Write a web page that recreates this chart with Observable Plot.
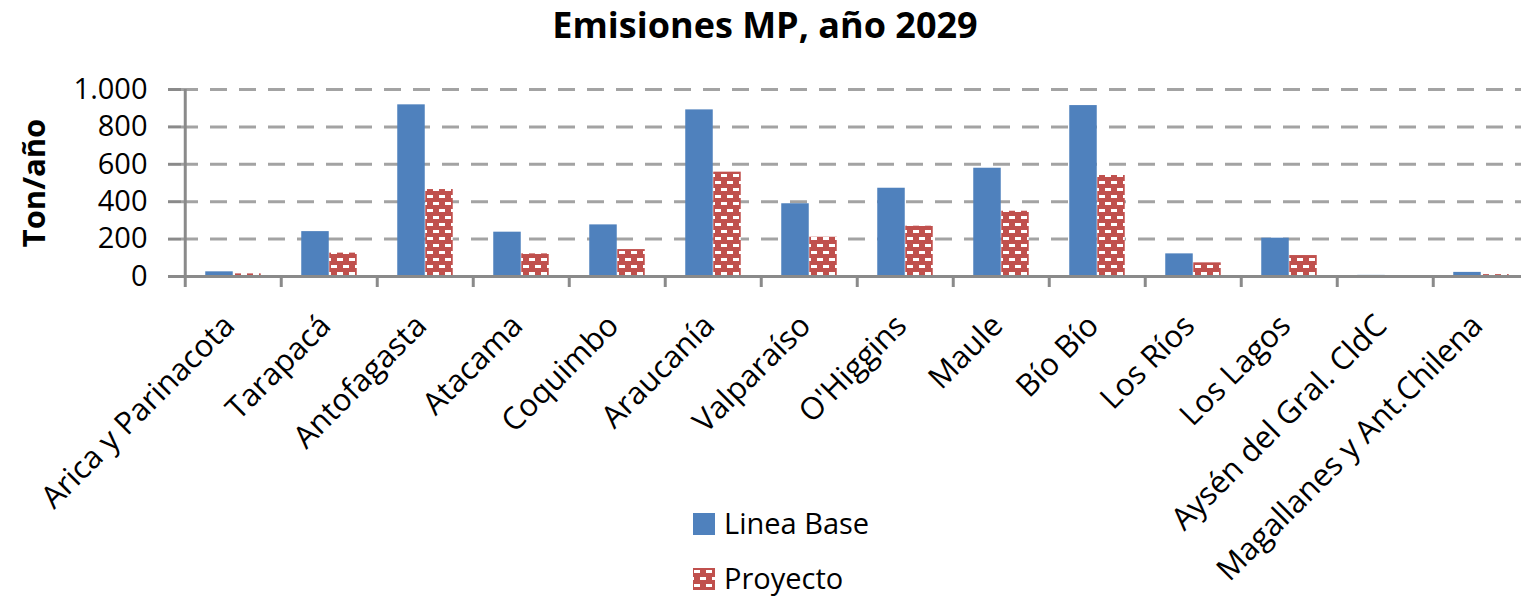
<!DOCTYPE html>
<html>
<head>
<meta charset="utf-8">
<script src="https://cdn.jsdelivr.net/npm/d3@7"></script>
<script src="https://cdn.jsdelivr.net/npm/@observablehq/plot@0.6"></script>
<style>
  html, body { margin: 0; padding: 0; background: #fff; }
  body { font-family: "Open Sans", sans-serif; color: #000; }
  #wrap { position: relative; width: 1521px; height: 596px; overflow: hidden; }
  #title { position: absolute; top: 0; left: 9px; width: 1512px; text-align: center; font-size: 36px; font-weight: bold; line-height: normal; }
  #chart { position: absolute; top: 60px; left: 0; }
  .lg-sw { position: absolute; left: 693px; width: 22px; height: 22px; }
  .lg-tx { position: absolute; left: 724px; font-size: 29px; line-height: 37px; white-space: nowrap; }
</style>
</head>
<body>
<div id="wrap">
  <div id="title">Emisiones MP, año 2029</div>
  <div id="chart"></div>
</div>
<script>
// ---- data ----
const categories = ["Arica y Parinacota", "Tarapacá", "Antofagasta", "Atacama", "Coquimbo", "Araucanía", "Valparaíso", "O'Higgins", "Maule", "Bío Bío", "Los Ríos", "Los Lagos", "Aysén del Gral. CldC", "Magallanes y Ant.Chilena"];
const lineaBase = [25, 240, 918, 237, 276, 891, 389, 472, 579, 914, 121, 205, 6, 22];
const proyecto  = [14, 125, 465, 121, 144, 558, 210, 269, 349, 540, 73, 112, 2, 10];
const seriesNames = ["Linea Base", "Proyecto"];
const yTicks = [0, 200, 400, 600, 800, 1000];
const yLabel = "Ton/año";

const colors = {"Linea Base": "#4F81BD", "Proyecto": "#C0504D"};

const baseRows = categories.map((c, i) => ({region: c, serie: seriesNames[0], value: lineaBase[i]}));
const projRows = categories.map((c, i) => ({region: c, serie: seriesNames[1], value: proyecto[i]}));

const fmt = d3.formatLocale({decimal: ",", thousands: ".", grouping: [3], currency: ["$", ""]}).format(",d");

// layout
const W = 1521, H = 536;
const mLeft = 181, mRight = -11, mTop = 29, mBottom = 320;
const band = (W - mRight - mLeft) / categories.length;
const barW = 28;
const innerGap = band / 2 - barW;

const plot = Plot.plot({
  width: W,
  height: H,
  marginLeft: mLeft,
  marginRight: mRight,
  marginTop: mTop,
  marginBottom: mBottom,
  style: {fontFamily: "Open Sans, sans-serif", color: "#000", background: "transparent", overflow: "hidden"},
  x: {domain: categories, padding: 0},
  y: {domain: [0, 1000]},
  marks: [
    Plot.gridY(yTicks.filter(d => d > 0), {stroke: "#a3a3a3", strokeOpacity: 1, strokeWidth: 3, strokeDasharray: "17,12"}),
    Plot.barY(baseRows, {x: "region", y: "value", fill: colors["Linea Base"], insetLeft: innerGap, insetRight: band / 2}),
    Plot.barY(projRows, {x: "region", y: "value", fill: "url(#brick)", insetLeft: band / 2, insetRight: innerGap}),
    Plot.ruleY([0], {stroke: "#8a8a8a", strokeWidth: 3}),
    Plot.ruleX([categories[0]], {dx: -band / 2, y1: 0, y2: 1000, stroke: "#8a8a8a", strokeWidth: 3}),
    Plot.axisY(yTicks, {tickSize: 13, tickPadding: 21, tickFormat: fmt, fontSize: 29, stroke: "#8a8a8a", strokeWidth: 3, fill: "#000", label: null}),
    Plot.axisX(categories, {tickSize: 11, dx: -band / 2, tickFormat: () => "", stroke: "#8a8a8a", strokeWidth: 3, label: null}),
    Plot.axisX(categories, {tickSize: 0, tickPadding: 44, dx: -4, tickRotate: -45, fontSize: 31, fill: "#000", label: null}),
    Plot.text([yLabel], {frameAnchor: "left", dx: -146, rotate: -90, textAnchor: "middle", fontSize: 31, fontWeight: "bold", fill: "#000"})
  ]
});

// pattern definition for "Proyecto"
const svgNS = "http://www.w3.org/2000/svg";
function addPattern(svg) {
  const s = d3.select(svg);
  const defs = s.insert("defs", ":first-child");
  const p = defs.append("pattern").attr("id", "brick").attr("patternUnits", "userSpaceOnUse")
    .attr("width", 12).attr("height", 14);
  p.append("rect").attr("width", 12).attr("height", 14).attr("fill", colors["Proyecto"]);
  p.append("rect").attr("x", 1).attr("y", 2).attr("width", 6).attr("height", 3).attr("fill", "#fff");
  p.append("rect").attr("x", 7).attr("y", 9).attr("width", 6).attr("height", 3).attr("fill", "#fff");
  p.append("rect").attr("x", -5).attr("y", 9).attr("width", 6).attr("height", 3).attr("fill", "#fff");
}
addPattern(plot);
document.getElementById("chart").appendChild(plot);

// legend
const wrap = document.getElementById("wrap");
const legendRows = [
  {name: seriesNames[0], top: 513, fill: colors["Linea Base"]},
  {name: seriesNames[1], top: 568, fill: "url(#brick)"}
];
legendRows.forEach(r => {
  const sw = document.createElementNS(svgNS, "svg");
  sw.setAttribute("class", "lg-sw");
  sw.setAttribute("width", 22); sw.setAttribute("height", 22);
  sw.style.top = r.top + "px";
  const rect = document.createElementNS(svgNS, "rect");
  rect.setAttribute("width", 22); rect.setAttribute("height", 22);
  rect.setAttribute("fill", r.fill);
  sw.appendChild(rect);
  wrap.appendChild(sw);
  const tx = document.createElement("div");
  tx.className = "lg-tx";
  tx.textContent = r.name;
  tx.style.top = (r.top - 9) + "px";
  wrap.appendChild(tx);
});
</script>
</body>
</html>
